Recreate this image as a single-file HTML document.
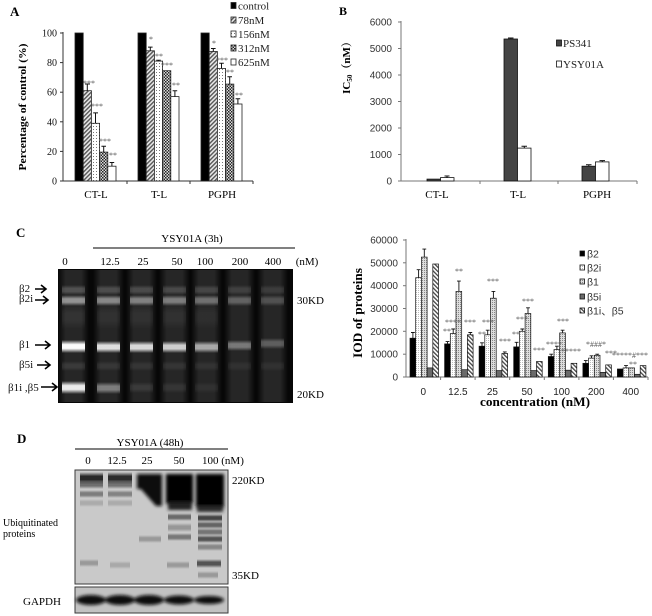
<!DOCTYPE html>
<html><head><meta charset="utf-8"><style>
html,body{margin:0;padding:0;background:#fff;}
svg{display:block;}
.s{font-family:"Liberation Serif","Noto Serif CJK SC",serif;}
.n{font-family:"Liberation Sans","Noto Sans CJK SC",sans-serif;}
</style></head><body>
<svg width="652" height="616" viewBox="0 0 652 616" xmlns="http://www.w3.org/2000/svg">
<defs>
<pattern id="hatA" width="3" height="3" patternUnits="userSpaceOnUse" patternTransform="rotate(45)"><rect width="3" height="3" fill="#e8e8e8"/><rect width="1.4" height="3" fill="#555"/></pattern>
<pattern id="dotA" width="3" height="3" patternUnits="userSpaceOnUse"><rect width="3" height="3" fill="#fff"/><rect width="1" height="1" fill="#777"/></pattern>
<pattern id="chkA" width="3" height="3" patternUnits="userSpaceOnUse"><rect width="3" height="3" fill="#ddd"/><rect width="1.5" height="1.5" fill="#222"/><rect x="1.5" y="1.5" width="1.5" height="1.5" fill="#222"/></pattern>
<pattern id="dotC" width="2" height="2" patternUnits="userSpaceOnUse"><rect width="2" height="2" fill="#fff"/><rect width="1" height="1" fill="#bbb"/></pattern>
<pattern id="dotC2" width="2" height="2" patternUnits="userSpaceOnUse"><rect width="2" height="2" fill="#ddd"/><rect width="1" height="1" fill="#888"/></pattern>
<pattern id="hatC" width="3" height="3" patternUnits="userSpaceOnUse" patternTransform="rotate(-45)"><rect width="3" height="3" fill="#fff"/><rect width="1.3" height="3" fill="#444"/></pattern>
<linearGradient id="gw" x1="0" y1="0" x2="0" y2="1">
<stop offset="0" stop-color="#fff" stop-opacity="0"/><stop offset="0.35" stop-color="#fff" stop-opacity="1"/><stop offset="0.65" stop-color="#fff" stop-opacity="1"/><stop offset="1" stop-color="#fff" stop-opacity="0"/>
</linearGradient>
<linearGradient id="gk" x1="0" y1="0" x2="0" y2="1">
<stop offset="0" stop-color="#000" stop-opacity="0"/><stop offset="0.35" stop-color="#000" stop-opacity="1"/><stop offset="0.65" stop-color="#000" stop-opacity="1"/><stop offset="1" stop-color="#000" stop-opacity="0"/>
</linearGradient>
<linearGradient id="gl" x1="0" y1="0" x2="1" y2="0">
<stop offset="0" stop-color="#262626" stop-opacity="0"/><stop offset="0.25" stop-color="#262626" stop-opacity="1"/><stop offset="0.75" stop-color="#262626" stop-opacity="1"/><stop offset="1" stop-color="#262626" stop-opacity="0"/>
</linearGradient>
<filter id="bl" x="-30%" y="-150%" width="160%" height="400%"><feGaussianBlur stdDeviation="1.5"/></filter>
</defs>

<!-- ================= PANEL A ================= -->
<text class="s" x="10" y="16" font-size="13" font-weight="bold">A</text>
<g class="s" font-size="10" text-anchor="end" fill="#111">
<text x="57" y="184.5">0</text><text x="57" y="154.9">20</text><text x="57" y="125.3">40</text><text x="57" y="95.7">60</text><text x="57" y="66.1">80</text><text x="57" y="36.5">100</text>
</g>
<g stroke="#333" stroke-width="1">
<line x1="63" y1="32" x2="63" y2="181"/>
<line x1="60" y1="181" x2="63" y2="181"/><line x1="60" y1="151.4" x2="63" y2="151.4"/><line x1="60" y1="121.8" x2="63" y2="121.8"/><line x1="60" y1="92.2" x2="63" y2="92.2"/><line x1="60" y1="62.6" x2="63" y2="62.6"/><line x1="60" y1="33" x2="63" y2="33"/>
<line x1="63" y1="181" x2="253" y2="181"/>
<line x1="127" y1="181" x2="127" y2="184"/><line x1="190" y1="181" x2="190" y2="184"/><line x1="253" y1="181" x2="253" y2="184"/>
</g>
<text class="s" transform="translate(26,107) rotate(-90)" font-size="10.5" font-weight="bold" text-anchor="middle" textLength="127" lengthAdjust="spacingAndGlyphs">Percentage of control (%)</text>
<g class="s" font-size="11" text-anchor="middle">
<text x="96" y="198">CT-L</text><text x="159" y="198">T-L</text><text x="222" y="198">PGPH</text>
</g>
<g stroke="#222" stroke-width="0.8">
<rect x="75" y="33" width="8.2" height="148" fill="#000"/>
<rect x="83.2" y="90.7" width="8.2" height="90.3" fill="url(#hatA)"/>
<rect x="91.4" y="123.3" width="8.2" height="57.7" fill="url(#dotA)"/>
<rect x="99.6" y="152.1" width="8.2" height="28.9" fill="url(#chkA)"/>
<rect x="107.8" y="166.2" width="8.2" height="14.8" fill="#fff"/>
<rect x="138" y="33" width="8.2" height="148" fill="#000"/>
<rect x="146.2" y="50.8" width="8.2" height="130.2" fill="url(#hatA)"/>
<rect x="154.4" y="61.1" width="8.2" height="119.9" fill="url(#dotA)"/>
<rect x="162.6" y="70.7" width="8.2" height="110.3" fill="url(#chkA)"/>
<rect x="170.8" y="96.6" width="8.2" height="84.4" fill="#fff"/>
<rect x="201" y="33" width="8.2" height="148" fill="#000"/>
<rect x="209.2" y="51.5" width="8.2" height="129.5" fill="url(#hatA)"/>
<rect x="217.4" y="68.5" width="8.2" height="112.5" fill="url(#dotA)"/>
<rect x="225.6" y="84.1" width="8.2" height="96.9" fill="url(#chkA)"/>
<rect x="233.8" y="104" width="8.2" height="77" fill="#fff"/>
</g>
<g stroke="#111" stroke-width="1" fill="none">
<path d="M87.3 90.7V84M85 84H90"/>
<path d="M95.5 123.3V112.9M93.2 112.9H98"/>
<path d="M103.7 152.1V146.2M101.4 146.2H106"/>
<path d="M111.9 166.2V162.5M109.6 162.5H114.2"/>
<path d="M150.3 50.8V47.1M148 47.1H152.6"/>
<path d="M158.5 61.1V60.2M156.2 60.2H160.8"/>
<path d="M174.9 96.6V90.7M172.6 90.7H177.2"/>
<path d="M213.3 51.5V48.5M211 48.5H215.6"/>
<path d="M221.5 68.5V63.3M219.2 63.3H223.8"/>
<path d="M229.7 84.1V76.7M227.4 76.7H232"/>
<path d="M237.9 104V98.8M235.6 98.8H240.2"/>
</g>
<g class="s" font-size="8" fill="#555" text-anchor="middle">
<text x="89" y="86">***</text><text x="97" y="109">***</text><text x="105" y="144">***</text><text x="113" y="158">**</text>
<text x="151" y="42">*</text><text x="159" y="59">**</text><text x="167" y="68">***</text><text x="176" y="88">**</text>
<text x="214" y="46">*</text><text x="222" y="63">***</text><text x="230" y="75">**</text><text x="239" y="98">**</text>
</g>
<g stroke="#222" stroke-width="0.8">
<rect x="231" y="2.5" width="5" height="6" fill="#000"/>
<rect x="231" y="17" width="5" height="6" fill="url(#hatA)"/>
<rect x="231" y="31" width="5" height="6" fill="url(#dotA)"/>
<rect x="231" y="45" width="5" height="6" fill="url(#chkA)"/>
<rect x="231" y="59" width="5" height="6" fill="#fff"/>
</g>
<g class="s" font-size="11" fill="#222">
<text x="238" y="9.5">control</text><text x="238" y="24">78nM</text><text x="238" y="38">156nM</text><text x="238" y="52">312nM</text><text x="238" y="66">625nM</text>
</g>

<!-- ================= PANEL B ================= -->
<text class="s" x="339" y="15" font-size="12" font-weight="bold">B</text>
<g class="n" font-size="10" text-anchor="end" fill="#333">
<text x="392" y="184.5">0</text><text x="392" y="158">1000</text><text x="392" y="131.5">2000</text><text x="392" y="105">3000</text><text x="392" y="78.5">4000</text><text x="392" y="52">5000</text><text x="392" y="25.5">6000</text>
</g>
<g stroke="#777" stroke-width="1">
<line x1="401" y1="21" x2="401" y2="181"/>
<line x1="398" y1="181" x2="401" y2="181"/><line x1="398" y1="154.5" x2="401" y2="154.5"/><line x1="398" y1="128" x2="401" y2="128"/><line x1="398" y1="101.5" x2="401" y2="101.5"/><line x1="398" y1="75" x2="401" y2="75"/><line x1="398" y1="48.5" x2="401" y2="48.5"/><line x1="398" y1="22" x2="401" y2="22"/>
<line x1="401" y1="181" x2="637" y2="181"/>
<line x1="480" y1="181" x2="480" y2="184"/><line x1="558" y1="181" x2="558" y2="184"/><line x1="637" y1="181" x2="637" y2="184"/>
</g>
<text class="s" transform="translate(350,65) rotate(-90)" font-size="11" font-weight="bold" text-anchor="middle">IC<tspan font-size="7" dy="2">50</tspan><tspan dy="-2">（nM）</tspan></text>
<g class="s" font-size="11" text-anchor="middle">
<text x="437" y="198">CT-L</text><text x="518" y="198">T-L</text><text x="597" y="198">PGPH</text>
</g>
<g stroke="#111" stroke-width="0.8">
<rect x="427" y="179.1" width="13.5" height="1.9" fill="#444"/>
<rect x="440.5" y="177.6" width="13.5" height="3.4" fill="#fff"/>
<rect x="504" y="39" width="13.5" height="142" fill="#444"/>
<rect x="517.5" y="148.1" width="13.5" height="32.9" fill="#fff"/>
<rect x="582" y="166.2" width="13.5" height="14.8" fill="#444"/>
<rect x="595.5" y="161.9" width="13.5" height="19.1" fill="#fff"/>
</g>
<g stroke="#111" stroke-width="1" fill="none">
<path d="M447 177.6V176M444.5 176H449.5"/>
<path d="M510.8 39V38M508 38H513.5"/>
<path d="M524.3 148.1V146.3M521.5 146.3H527"/>
<path d="M588.8 166.2V164.8M586 164.8H591.5"/>
<path d="M602.3 161.9V160.6M599.5 160.6H605"/>
</g>
<rect x="556.5" y="40" width="5" height="6" fill="#444" stroke="#111" stroke-width="0.8"/>
<rect x="556.5" y="61" width="5" height="6" fill="#fff" stroke="#111" stroke-width="0.8"/>
<g class="s" font-size="11" fill="#222">
<text x="563" y="47">PS341</text><text x="563" y="68">YSY01A</text>
</g>

<!-- ================= PANEL C (gel) ================= -->
<text class="s" x="16" y="237" font-size="13" font-weight="bold">C</text>
<text class="s" x="192" y="242" font-size="11" text-anchor="middle">YSY01A (3h)</text>
<line x1="93" y1="248" x2="295" y2="248" stroke="#000" stroke-width="1"/>
<g class="s" font-size="11" text-anchor="middle">
<text x="65" y="265">0</text><text x="110" y="265">12.5</text><text x="143" y="265">25</text><text x="177" y="265">50</text><text x="205" y="265">100</text><text x="240" y="265">200</text><text x="273" y="265">400</text><text x="307" y="265">(nM)</text>
</g>
<rect x="58" y="269" width="235" height="134" fill="#070707"/>
<g fill="url(#gl)">
<rect x="58" y="270" width="31" height="132"/><rect x="93" y="270" width="31" height="132"/><rect x="126" y="270" width="31" height="132"/><rect x="159" y="270" width="31" height="132"/><rect x="191" y="270" width="31" height="132"/><rect x="224" y="270" width="31" height="132"/><rect x="257" y="270" width="31" height="132"/>
</g>
<g fill="url(#gw)">
<!-- beta2 -->
<rect x="62" y="285" width="23" height="10" fill-opacity="0.2"/><rect x="97" y="285" width="23" height="10" fill-opacity="0.18"/><rect x="130" y="285" width="23" height="10" fill-opacity="0.17"/><rect x="163" y="285" width="23" height="10" fill-opacity="0.16"/><rect x="195" y="285" width="23" height="10" fill-opacity="0.15"/><rect x="228" y="285" width="23" height="10" fill-opacity="0.12"/><rect x="261" y="285" width="23" height="10" fill-opacity="0.1"/>
<!-- beta2i -->
<rect x="62" y="295" width="23" height="11" fill-opacity="0.5"/><rect x="97" y="295" width="23" height="11" fill-opacity="0.45"/><rect x="130" y="295" width="23" height="11" fill-opacity="0.42"/><rect x="163" y="295" width="23" height="11" fill-opacity="0.4"/><rect x="195" y="295" width="23" height="11" fill-opacity="0.34"/><rect x="228" y="295" width="23" height="11" fill-opacity="0.28"/><rect x="261" y="295" width="23" height="11" fill-opacity="0.2"/>
<!-- haze -->
<rect x="62" y="305" width="23" height="24" fill-opacity="0.06"/><rect x="97" y="305" width="23" height="24" fill-opacity="0.05"/><rect x="130" y="305" width="23" height="24" fill-opacity="0.05"/><rect x="163" y="305" width="23" height="24" fill-opacity="0.05"/><rect x="195" y="305" width="23" height="24" fill-opacity="0.04"/>
<!-- beta1 -->
<rect x="62" y="340" width="23" height="13" fill-opacity="0.98"/><rect x="97" y="341" width="23" height="12" fill-opacity="0.85"/><rect x="130" y="341" width="23" height="12" fill-opacity="0.82"/><rect x="163" y="341" width="23" height="12" fill-opacity="0.77"/><rect x="195" y="341" width="23" height="12" fill-opacity="0.6"/><rect x="228" y="340" width="23" height="11" fill-opacity="0.38"/><rect x="261" y="338" width="23" height="11" fill-opacity="0.26"/>
<!-- beta5i -->
<rect x="62" y="361" width="23" height="10" fill-opacity="0.09"/><rect x="97" y="361" width="23" height="10" fill-opacity="0.08"/><rect x="130" y="361" width="23" height="10" fill-opacity="0.07"/><rect x="163" y="361" width="23" height="10" fill-opacity="0.07"/><rect x="195" y="361" width="23" height="10" fill-opacity="0.06"/><rect x="228" y="361" width="23" height="10" fill-opacity="0.05"/><rect x="261" y="361" width="23" height="10" fill-opacity="0.05"/>
<!-- beta1i, beta5 -->
<rect x="62" y="381" width="23" height="13" fill-opacity="0.9"/><rect x="97" y="382" width="23" height="12" fill-opacity="0.4"/><rect x="130" y="382" width="23" height="11" fill-opacity="0.09"/><rect x="163" y="382" width="23" height="11" fill-opacity="0.07"/><rect x="195" y="382" width="23" height="11" fill-opacity="0.05"/>
</g>
<g class="s" font-size="11" fill="#111">
<text x="19" y="292">β2</text><text x="19" y="302">β2i</text><text x="19" y="348">β1</text><text x="19" y="368">β5i</text><text x="8" y="391">β1i ,β5</text>
</g>
<g stroke="#000" stroke-width="1.6" fill="none">
<path d="M35 289H46M41 285L46 289L41 293"/>
<path d="M35 300H48M43 296L48 300L43 304"/>
<path d="M35 345H50M45 341L50 345L45 349"/>
<path d="M37 365H50M45 361L50 365L45 369"/>
<path d="M41 387H57M52 383L57 387L52 391"/>
</g>
<g class="s" font-size="11"><text x="297" y="304">30KD</text><text x="297" y="398">20KD</text></g>

<!-- ================= PANEL C (chart) ================= -->
<g class="n" font-size="10" text-anchor="end" fill="#333">
<text x="398" y="380.5">0</text><text x="398" y="357.7">10000</text><text x="398" y="334.8">20000</text><text x="398" y="312">30000</text><text x="398" y="289.2">40000</text><text x="398" y="266.3">50000</text><text x="398" y="243.5">60000</text>
</g>
<g stroke="#777" stroke-width="1">
<line x1="406" y1="239" x2="406" y2="377"/>
<line x1="403" y1="377" x2="406" y2="377"/><line x1="403" y1="354.2" x2="406" y2="354.2"/><line x1="403" y1="331.3" x2="406" y2="331.3"/><line x1="403" y1="308.5" x2="406" y2="308.5"/><line x1="403" y1="285.7" x2="406" y2="285.7"/><line x1="403" y1="262.8" x2="406" y2="262.8"/><line x1="403" y1="240" x2="406" y2="240"/>
<line x1="406" y1="377" x2="648" y2="377"/>
<line x1="440.6" y1="377" x2="440.6" y2="380"/><line x1="475.1" y1="377" x2="475.1" y2="380"/><line x1="509.7" y1="377" x2="509.7" y2="380"/><line x1="544.3" y1="377" x2="544.3" y2="380"/><line x1="578.9" y1="377" x2="578.9" y2="380"/><line x1="613.4" y1="377" x2="613.4" y2="380"/><line x1="648" y1="377" x2="648" y2="380"/>
</g>
<text class="s" transform="translate(362,313) rotate(-90)" font-size="12.5" font-weight="bold" text-anchor="middle" textLength="90" lengthAdjust="spacingAndGlyphs">IOD of proteins</text>
<g class="n" font-size="10" text-anchor="middle" fill="#222">
<text x="423.3" y="395">0</text><text x="457.9" y="395">12.5</text><text x="492.4" y="395">25</text><text x="527" y="395">50</text><text x="561.6" y="395">100</text><text x="596.2" y="395">200</text><text x="630.7" y="395">400</text>
</g>
<text class="s" x="535" y="406" font-size="12.5" font-weight="bold" text-anchor="middle" textLength="110" lengthAdjust="spacingAndGlyphs">concentration (nM)</text>
<g stroke="#111" stroke-width="0.7">
<rect x="410" y="338.2" width="5.7" height="38.8" fill="#000"/>
<rect x="415.7" y="277.7" width="5.7" height="99.3" fill="url(#dotC)"/>
<rect x="421.4" y="257.1" width="5.7" height="119.9" fill="url(#dotC2)"/>
<rect x="427.1" y="367.9" width="5.7" height="9.1" fill="#6a6a6a"/>
<rect x="432.8" y="264" width="5.7" height="113" fill="url(#hatC)"/>
<rect x="444.6" y="343.9" width="5.7" height="33.1" fill="#000"/>
<rect x="450.3" y="333.6" width="5.7" height="43.4" fill="url(#dotC)"/>
<rect x="456" y="291.4" width="5.7" height="85.6" fill="url(#dotC2)"/>
<rect x="461.7" y="369.7" width="5.7" height="7.3" fill="#6a6a6a"/>
<rect x="467.4" y="334.8" width="5.7" height="42.2" fill="url(#hatC)"/>
<rect x="479.1" y="346.2" width="5.7" height="30.8" fill="#000"/>
<rect x="484.8" y="334.8" width="5.7" height="42.2" fill="url(#dotC)"/>
<rect x="490.5" y="298.2" width="5.7" height="78.8" fill="url(#dotC2)"/>
<rect x="496.2" y="370.6" width="5.7" height="6.4" fill="#6a6a6a"/>
<rect x="501.9" y="353.5" width="5.7" height="23.5" fill="url(#hatC)"/>
<rect x="513.7" y="346.9" width="5.7" height="30.1" fill="#000"/>
<rect x="519.4" y="331.3" width="5.7" height="45.7" fill="url(#dotC)"/>
<rect x="525.1" y="313.5" width="5.7" height="63.5" fill="url(#dotC2)"/>
<rect x="530.8" y="370.6" width="5.7" height="6.4" fill="#6a6a6a"/>
<rect x="536.5" y="361.5" width="5.7" height="15.5" fill="url(#hatC)"/>
<rect x="548.3" y="356.5" width="5.7" height="20.5" fill="#000"/>
<rect x="554" y="349.6" width="5.7" height="27.4" fill="url(#dotC)"/>
<rect x="559.7" y="332.9" width="5.7" height="44.1" fill="url(#dotC2)"/>
<rect x="565.4" y="370.2" width="5.7" height="6.8" fill="#6a6a6a"/>
<rect x="571.1" y="363.3" width="5.7" height="13.7" fill="url(#hatC)"/>
<rect x="582.9" y="363.3" width="5.7" height="13.7" fill="#000"/>
<rect x="588.6" y="358.1" width="5.7" height="18.9" fill="url(#dotC)"/>
<rect x="594.3" y="355.3" width="5.7" height="21.7" fill="url(#dotC2)"/>
<rect x="600" y="372.4" width="5.7" height="4.6" fill="#6a6a6a"/>
<rect x="605.7" y="364.9" width="5.7" height="12.1" fill="url(#hatC)"/>
<rect x="617.4" y="369" width="5.7" height="8" fill="#000"/>
<rect x="623.1" y="367.9" width="5.7" height="9.1" fill="url(#dotC)"/>
<rect x="628.8" y="367.9" width="5.7" height="9.1" fill="url(#dotC2)"/>
<rect x="634.5" y="374.3" width="5.7" height="2.7" fill="#6a6a6a"/>
<rect x="640.2" y="365.6" width="5.7" height="11.4" fill="url(#hatC)"/>
</g>
<g stroke="#111" stroke-width="0.9" fill="none">
<path d="M412.9 338.2V332.5M411 332.5H414.8"/>
<path d="M418.6 277.7V269.7M416.7 269.7H420.5"/>
<path d="M424.3 257.1V249.1M422.4 249.1H426.2"/>
<path d="M447.5 343.9V341.6M445.6 341.6H449.4"/>
<path d="M453.2 333.6V329M451.3 329H455.1"/>
<path d="M458.9 291.4V281.1M457 281.1H460.8"/>
<path d="M470.3 334.8V332.5M468.4 332.5H472.2"/>
<path d="M482 346.2V342.8M480.1 342.8H483.9"/>
<path d="M487.7 334.8V330.2M485.8 330.2H489.6"/>
<path d="M493.4 298.2V291.4M491.5 291.4H495.3"/>
<path d="M504.8 353.5V351.9M502.9 351.9H506.7"/>
<path d="M516.6 346.9V342.3M514.7 342.3H518.5"/>
<path d="M522.3 331.3V329M520.4 329H524.2"/>
<path d="M528 313.5V307.8M526.1 307.8H529.9"/>
<path d="M551.2 356.5V354.2M549.3 354.2H553.1"/>
<path d="M556.9 349.6V346.2M555 346.2H558.8"/>
<path d="M562.6 332.9V330.2M560.7 330.2H564.5"/>
<path d="M585.8 363.3V360.6M583.9 360.6H587.7"/>
<path d="M591.5 358.1V355.8M589.6 355.8H593.4"/>
<path d="M597.2 355.3V354.2M595.3 354.2H599.1"/>
<path d="M626 367.9V365.6M624.1 365.6H627.9"/>
</g>
<g class="s" font-size="8" fill="#555" text-anchor="middle">
<text x="459" y="274">**</text><text x="470" y="325">***</text><text x="453" y="325">****</text><text x="447" y="334">**</text>
<text x="493" y="284">***</text><text x="488" y="325">***</text><text x="482" y="337">**</text><text x="505" y="344">***</text>
<text x="528" y="304">***</text><text x="522" y="322">***</text><text x="516" y="337">**</text><text x="539" y="353">***</text>
<text x="563" y="324">***</text><text x="554" y="347">****</text><text x="571" y="354">*****</text>
<text x="596" y="347">*###*</text><text x="611" y="356">***</text>
<text x="630" y="358">*****#***</text><text x="633" y="367">**</text>
</g>
<g stroke="#111" stroke-width="0.8">
<rect x="580" y="251" width="4.5" height="5" fill="#000"/>
<rect x="580" y="265" width="4.5" height="5" fill="url(#dotC)"/>
<rect x="580" y="279" width="4.5" height="5" fill="url(#dotC2)"/>
<rect x="580" y="294" width="4.5" height="5" fill="#6a6a6a"/>
<rect x="580" y="308" width="4.5" height="5" fill="url(#hatC)"/>
</g>
<g class="n" font-size="10.5" fill="#333">
<text x="587" y="257.5">β2</text><text x="587" y="271.5">β2i</text><text x="587" y="285.5">β1</text><text x="587" y="300.5">β5i</text><text x="587" y="314.5">β1i、β5</text>
</g>

<!-- ================= PANEL D ================= -->
<text class="s" x="17" y="443" font-size="13" font-weight="bold">D</text>
<text class="s" x="150" y="446" font-size="11" text-anchor="middle">YSY01A (48h)</text>
<line x1="75" y1="449" x2="228" y2="449" stroke="#000" stroke-width="1"/>
<g class="s" font-size="11">
<text x="88" y="464" text-anchor="middle">0</text><text x="117" y="464" text-anchor="middle">12.5</text><text x="147" y="464" text-anchor="middle">25</text><text x="179" y="464" text-anchor="middle">50</text><text x="202" y="464">100 (nM)</text>
</g>
<rect x="75" y="470" width="153" height="114" fill="#c9c9c9" stroke="#3a3a3a" stroke-width="1"/>
<g fill="url(#gk)">
<rect x="80" y="472" width="23" height="12" fill-opacity="0.8"/><rect x="108" y="472" width="24" height="12" fill-opacity="0.78"/>
<rect x="80" y="480" width="23" height="9" fill-opacity="0.45"/><rect x="108" y="480" width="24" height="9" fill-opacity="0.43"/>
<rect x="80" y="490" width="23" height="8" fill-opacity="0.38"/><rect x="108" y="490" width="24" height="8" fill-opacity="0.35"/>
<rect x="80" y="499" width="23" height="8" fill-opacity="0.15"/><rect x="108" y="499" width="24" height="8" fill-opacity="0.15"/>
<rect x="168" y="513" width="23" height="8" fill-opacity="0.47"/><rect x="168" y="523" width="23" height="9" fill-opacity="0.25"/><rect x="168" y="533" width="23" height="8" fill-opacity="0.4"/>
<rect x="198" y="514" width="24" height="8" fill-opacity="0.66"/><rect x="198" y="521" width="24" height="8" fill-opacity="0.5"/><rect x="198" y="528" width="24" height="8" fill-opacity="0.42"/><rect x="198" y="535" width="24" height="8" fill-opacity="0.58"/><rect x="198" y="543" width="24" height="8" fill-opacity="0.32"/>
<rect x="139" y="535" width="22" height="8" fill-opacity="0.24"/>
<rect x="80" y="559" width="18" height="8" fill-opacity="0.24"/><rect x="110" y="561" width="20" height="8" fill-opacity="0.16"/><rect x="167" y="561" width="22" height="8" fill-opacity="0.23"/><rect x="197" y="559" width="24" height="9" fill-opacity="0.58"/><rect x="198" y="571" width="20" height="8" fill-opacity="0.24"/>
</g>
<g filter="url(#bl)">
<rect x="137" y="474" width="25" height="15" fill="#0a0a0a"/>
<path d="M140 488H162V506H156Z" fill="#111"/>
<rect x="166" y="474" width="27" height="30" fill="#050505"/>
<rect x="168" y="502" width="24" height="8" fill="#222"/>
<rect x="196" y="474" width="28" height="34" fill="#050505"/>
<rect x="197" y="506" width="26" height="6" fill="#2a2a2a"/>
</g>
<rect x="75" y="587" width="153" height="26" fill="#c2c2c2" stroke="#3a3a3a" stroke-width="1"/>
<g filter="url(#bl)" fill="#0a0a0a">
<ellipse cx="91" cy="600" rx="15" ry="5"/><ellipse cx="120" cy="600" rx="15" ry="5"/><ellipse cx="149" cy="600" rx="15" ry="5"/><ellipse cx="179" cy="600" rx="15" ry="4.5"/><ellipse cx="209" cy="600" rx="15" ry="4"/>
</g>
<g class="s" font-size="11">
<text x="232" y="484">220KD</text><text x="232" y="579">35KD</text>
<text x="3" y="526" font-size="10">Ubiquitinated</text><text x="3" y="537" font-size="10">proteins</text>
<text x="23" y="605">GAPDH</text>
</g>
</svg>
</body></html>
